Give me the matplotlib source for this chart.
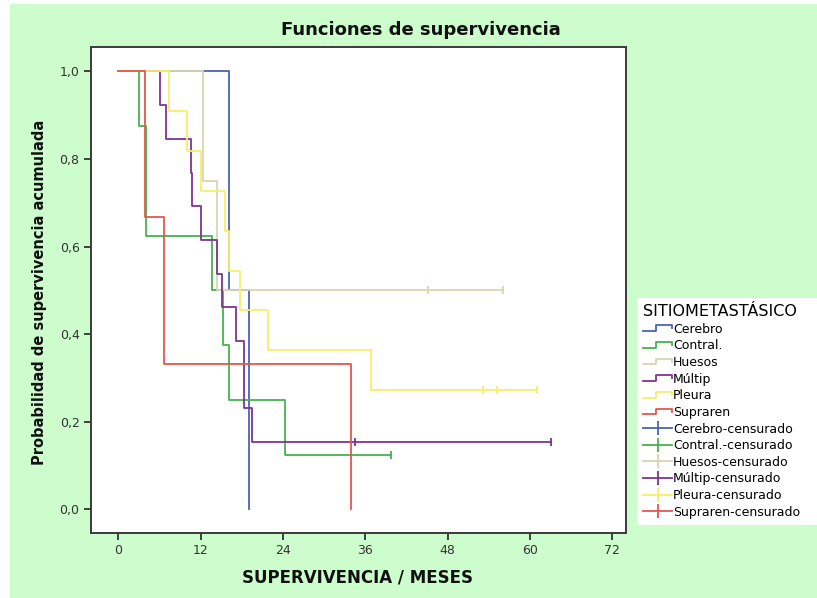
import matplotlib
matplotlib.use('Agg')
import matplotlib.pyplot as plt
from matplotlib.lines import Line2D
from matplotlib.patches import Rectangle
from matplotlib.legend_handler import HandlerBase

plt.rcParams['font.family'] = ['DejaVu Sans']

# Kaplan-Meier steps: drop times (months) and level after each drop
groups = ['Cerebro', 'Contral.', 'Huesos', 'Múltip', 'Pleura', 'Supraren']
colors = ['#4a63b0', '#47b34f', '#d9d6b4', '#7e3590', '#f7ef6a', '#e2574f']

cerebro_t = [16.2, 19.0]
cerebro_s = [0.5, 0.0]
cerebro_cens = []

contral_t = [3.0, 4.0, 13.7, 15.3, 16.2, 24.3]
contral_s = [0.875, 0.625, 0.5, 0.375, 0.25, 0.125]
contral_cens = [39.8]

huesos_t = [12.3, 14.4]
huesos_s = [0.75, 0.5]
huesos_cens = [45.1, 56.1]

multip_t = [6.1, 6.9, 10.6, 10.8, 12.0, 14.4, 15.1, 17.2, 18.3, 18.4, 19.5]
multip_s = [0.923, 0.846, 0.769, 0.692, 0.615, 0.538, 0.462, 0.385, 0.308, 0.231, 0.154]
multip_cens = [34.5, 63.0]

pleura_t = [7.4, 10.1, 12.1, 15.6, 16.2, 17.7, 21.8, 36.8]
pleura_s = [0.909, 0.818, 0.727, 0.636, 0.545, 0.455, 0.364, 0.273]
pleura_cens = [53.2, 55.2, 61.0]

supraren_t = [3.9, 6.7, 34.0]
supraren_s = [0.667, 0.333, 0.0]
supraren_cens = []

times = [cerebro_t, contral_t, huesos_t, multip_t, pleura_t, supraren_t]
survs = [cerebro_s, contral_s, huesos_s, multip_s, pleura_s, supraren_s]
censored = [cerebro_cens, contral_cens, huesos_cens, multip_cens, pleura_cens, supraren_cens]

yticks = [0.0, 0.2, 0.4, 0.6, 0.8, 1.0]
xticks = [0, 12, 24, 36, 48, 60, 72]


class StepHandler(HandlerBase):
    def create_artists(self, legend, orig_handle, xdescent, ydescent,
                       width, height, fontsize, trans):
        x0, y0 = -xdescent, -ydescent
        xs = [x0, x0 + 0.45 * width, x0 + 0.45 * width, x0 + width, x0 + width]
        ys = [y0 + 0.2 * height, y0 + 0.2 * height, y0 + 0.85 * height,
              y0 + 0.85 * height, y0 + 0.5 * height]
        ln = Line2D(xs, ys, color=orig_handle.get_color(), lw=orig_handle.get_linewidth())
        ln.set_transform(trans)
        return [ln]


def level_at(t, ts, ss):
    lev = 1.0
    for tt, s in zip(ts, ss):
        if tt <= t:
            lev = s
    return lev


fig = plt.figure(figsize=(8.17, 5.98), dpi=100)
fig.patch.set_facecolor('white')
fig.patches.append(Rectangle((10 / 817, 0), 1, (598 - 4) / 598, transform=fig.transFigure,
                             facecolor='#cdfccd', edgecolor='none', zorder=-10))

ax = fig.add_axes([90.7 / 817, 1 - 533 / 598, (626 - 90.7) / 817, (533 - 46.5) / 598])
ax.set_facecolor('white')

step_handles = []
cens_handles = []
for name, col, ts, ss, cs in zip(groups, colors, times, survs, censored):
    xs = [0] + ts
    ys = [1.0] + ss
    if cs:
        xs = xs + [max(cs)]
        ys = ys + [ss[-1]]
    ax.step(xs, ys, where='post', color=col, lw=1.3)
    if cs:
        ax.plot(cs, [level_at(c, ts, ss) for c in cs], ls='none', marker='|',
                ms=6, mew=1.3, color=col)
    step_handles.append(Line2D([], [], color=col, lw=1.3))
    cens_handles.append(Line2D([], [], color=col, lw=1.3, marker='|', ms=10, mew=1.3))

ax.set_xlim(-4, 74)
ax.set_ylim(-0.054, 1.057)
ax.set_xticks(xticks)
ax.set_yticks(yticks)
ax.set_yticklabels([f'{v:.1f}'.replace('.', ',') for v in yticks])
ax.tick_params(direction='out', length=5, width=1.3, colors='#333333', labelsize=9, pad=3)
for sp in ax.spines.values():
    sp.set_color('#3a3a3a')
    sp.set_linewidth(1.4)

fig.text(421 / 817, 1 - 30 / 598, 'Funciones de supervivencia', ha='center', va='center',
         fontsize=13, fontweight='bold', color='#111111')
fig.text(357 / 817, 1 - 578 / 598, 'SUPERVIVENCIA / MESES', ha='center', va='center',
         fontsize=12, fontweight='bold', color='#111111')
fig.text(40 / 817, 1 - 292 / 598, 'Probabilidad de supervivencia acumulada', ha='center',
         va='center', rotation=90, fontsize=10.5, fontweight='bold', color='#111111')

labels = groups + [g + '-censurado' for g in groups]
hmap = {h: StepHandler() for h in step_handles}
leg = fig.legend(step_handles + cens_handles, labels, handler_map=hmap,
                 loc='upper left', mode='expand',
                 bbox_to_anchor=(637 / 817, 1 - 528 / 598, 180 / 817, 230 / 598),
                 title='SITIOMETASTÁSICO', title_fontsize=11.5, fontsize=9,
                 frameon=True, fancybox=False, edgecolor='none', facecolor='white',
                 framealpha=1, borderpad=0.5, labelspacing=0.29, handlelength=2.3,
                 handletextpad=0.1, borderaxespad=0, alignment='left')
leg.get_frame().set_linewidth(0)

fig.savefig('out.png', dpi=100)
